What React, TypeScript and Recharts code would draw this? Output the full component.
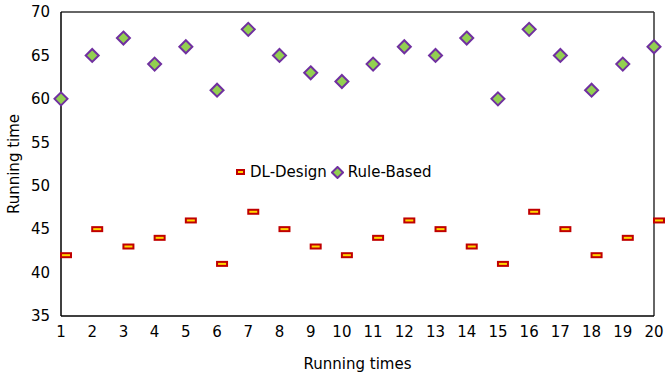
import React from "react";
import {
  ScatterChart,
  Scatter,
  XAxis,
  YAxis,
  ReferenceLine,
} from "recharts";

const runs = [1, 2, 3, 4, 5, 6, 7, 8, 9, 10, 11, 12, 13, 14, 15, 16, 17, 18, 19, 20];
const dlDesign = [42, 45, 43, 44, 46, 41, 47, 45, 43, 42, 44, 46, 45, 43, 41, 47, 45, 42, 44, 46];
const ruleBased = [60, 65, 67, 64, 66, 61, 68, 65, 63, 62, 64, 66, 65, 67, 60, 68, 65, 61, 64, 66];
const yTicks = [35, 40, 45, 50, 55, 60, 65, 70];
const seriesNames = ["DL-Design", "Rule-Based"];

const dlData = runs.map((r, i) => ({ x: r, y: dlDesign[i] }));
const rbData = runs.map((r, i) => ({ x: r, y: ruleBased[i] }));

const FONT = "Verdana, 'DejaVu Sans', sans-serif";
const FS = 15;

const DlShape = (props: any) => {
  const { cx, cy } = props;
  return (
    <rect x={cx} y={cy - 2} width={10} height={4} fill="#ffd700" stroke="#c00000" strokeWidth={2} />
  );
};

const RbShape = (props: any) => {
  const { cx, cy } = props;
  const r = 6.5;
  return (
    <polygon
      points={`${cx},${cy - r} ${cx + r},${cy} ${cx},${cy + r} ${cx - r},${cy}`}
      fill="#92d050"
      stroke="#7030a0"
      strokeWidth={2}
    />
  );
};

const LegendOverlay = () => (
  <div
    style={{
      position: "absolute",
      left: 236,
      top: 163,
      display: "flex",
      alignItems: "center",
      fontFamily: FONT,
      fontSize: FS,
      color: "#000",
      whiteSpace: "nowrap",
    }}
  >
    <svg width={10} height={8} style={{ marginRight: 4 }}>
      <rect x={1} y={2} width={7} height={4} fill="#ffd700" stroke="#c00000" strokeWidth={2} />
    </svg>
    <span style={{ marginRight: 4 }}>{seriesNames[0]}</span>
    <svg width={13} height={13} style={{ marginRight: 4 }}>
      <polygon points="6.5,1 12,6.5 6.5,12 1,6.5" fill="#92d050" stroke="#7030a0" strokeWidth={2} />
    </svg>
    <span>{seriesNames[1]}</span>
  </div>
);

export default function App() {
  return (
    <div style={{ position: "absolute", left: 0, top: 0, width: 666, height: 375, background: "#fff" }}>
      <ScatterChart width={666} height={375} margin={{ top: 12, right: 12, left: 0, bottom: 0 }}>
        <XAxis
          type="number"
          dataKey="x"
          domain={[1, 20]}
          ticks={runs}
          interval={0}
          height={59}
          tickLine={false}
          axisLine={{ stroke: "#000", strokeWidth: 1.5 }}
          tick={{ fill: "#000", fontSize: FS, fontFamily: FONT }}
          tickMargin={4}
          label={{ value: "Running times", position: "insideBottom", offset: 6, fill: "#000", fontSize: FS, fontFamily: FONT }}
        />
        <YAxis
          type="number"
          dataKey="y"
          domain={[35, 70]}
          ticks={yTicks}
          interval={0}
          width={61}
          tickLine={false}
          tickMargin={5}
          axisLine={{ stroke: "#000", strokeWidth: 1.5 }}
          tick={{ fill: "#000", fontSize: FS, fontFamily: FONT }}
          label={{ value: "Running time", angle: -90, position: "insideLeft", offset: 14, fill: "#000", fontSize: FS, fontFamily: FONT, style: { textAnchor: "middle" } }}
        />
        <ReferenceLine y={70} stroke="#333" strokeWidth={1.5} />
        <ReferenceLine x={20} stroke="#333" strokeWidth={1.5} />
        <Scatter name={seriesNames[0]} data={dlData} shape={<DlShape />} isAnimationActive={false} />
        <Scatter name={seriesNames[1]} data={rbData} shape={<RbShape />} isAnimationActive={false} />
      </ScatterChart>
      <LegendOverlay />
    </div>
  );
}
